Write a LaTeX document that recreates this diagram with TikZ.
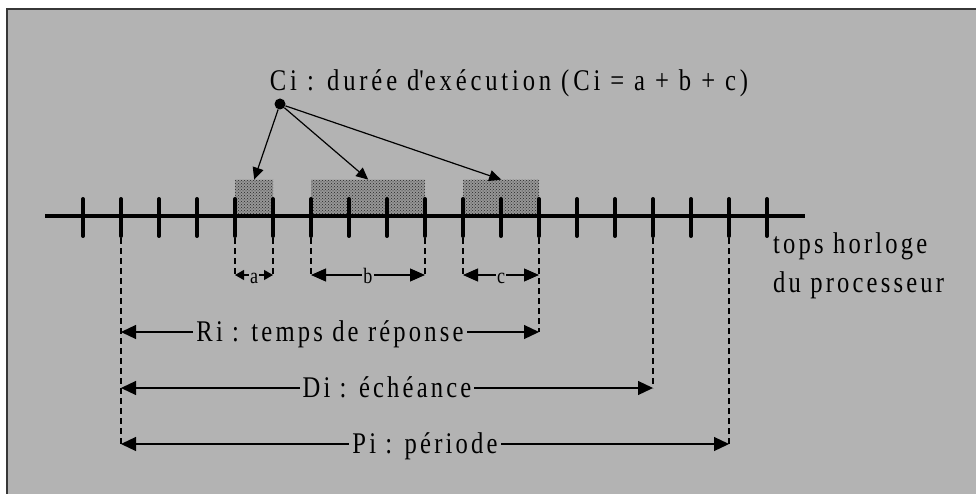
\documentclass[tikz,border=0pt]{standalone}
\usepackage{fontspec}
\setmainfont{Liberation Serif}[FakeStretch=0.82, LetterSpace=10.6]
\usetikzlibrary{arrows.meta,patterns}
\definecolor{panel}{RGB}{179,179,179}
\definecolor{frameline}{RGB}{55,55,55}
\definecolor{stipple}{RGB}{150,150,150}
\newcommand{\bigtxt}{\fontsize{30}{39}\selectfont}
\newcommand{\smalltxt}{\fontsize{22}{24}\selectfont}
\begin{document}
\begin{tikzpicture}[x=1pt,y=-1pt,
  tickmark/.style={line width=4pt, line cap=round},
  guide/.style={line width=2pt, dash pattern=on 6pt off 4pt},
  blockbox/.style={inner sep=0pt, anchor=south west, minimum height=36pt,
    preaction={fill=stipple}, pattern=crosshatch dots, pattern color=black!85},
  pointer/.style={line width=1.2pt, -{Triangle[length=12pt,width=11pt]}},
  span/.style={line width=1.2pt, {Triangle[length=15pt,width=14pt]}-{Triangle[length=15pt,width=14pt]}},
  spanlbl/.style={fill=panel, inner xsep=3pt, inner ysep=0pt, anchor=base, yshift=-9pt, font=\bigtxt},
  dimbig/.style={line width=1.2pt, {Triangle[length=15pt,width=13pt]}-{Triangle[length=15pt,width=13pt]}},
  dimsmall/.style={line width=1.2pt, {Triangle[length=9pt,width=10pt]}-{Triangle[length=9pt,width=10pt]}},
  dimlbl/.style={fill=panel, inner xsep=1pt, inner ysep=0pt, anchor=base, yshift=-8pt, font=\smalltxt}]

\useasboundingbox (0,0) rectangle (976,494);
\fill[white] (0,0) rectangle (976,494);
\fill[panel] (7,9) rectangle (976,494);
\draw[frameline, line width=1.5pt] (7,494) -- (7,9) -- (976,9);

% clock ticks
\foreach \i in {0,...,18}{
  \pgfmathsetmacro{\x}{83+38*\i}
  \coordinate (k\i) at (\x,216);
}

% rows of the dimension lines
\coordinate (rowabc) at (0,275);
\coordinate (rowR) at (0,332);
\coordinate (rowD) at (0,388);
\coordinate (rowP) at (0,444);

% execution slices
\node[blockbox, minimum width=38pt] (blka) at (k4) {};
\node[blockbox, minimum width=114pt] (blkb) at (k6) {};
\node[blockbox, minimum width=76pt] (blkc) at (k10) {};

% time axis
\draw[line width=4pt] (45,216) -- (805,216);
\foreach \i in {0,...,18}{
  \draw[tickmark] ([yshift=17pt]k\i) -- ([yshift=-20pt]k\i);
}

% caption with its pointers
\node[font=\bigtxt\addfontfeature{LetterSpace=12.8}, anchor=base, inner sep=0pt] (cap) at (509,91) {Ci : durée d\textquotesingle exécution (Ci = a + b + c)};
\node[circle, fill=black, inner sep=0pt, minimum size=11pt] (dot) at (280,104) {};
\draw[pointer] (dot) -- (blka.north);
\draw[pointer] (dot) -- (blkb.north);
\draw[pointer] (dot) -- (blkc.north);

% clock label
\node[font=\bigtxt, anchor=base west, align=left, inner sep=0pt] (clk) at (773,292) {tops horloge\\du processeur};

% guides
\foreach \i in {4,5,6,9,10}{
  \draw[guide] ([yshift=-22pt]k\i) -- (k\i |- rowabc);
}
\draw[guide] ([yshift=-22pt]k12) -- (k12 |- rowR);
\draw[guide] ([yshift=-22pt]k15) -- (k15 |- rowD);
\draw[guide] ([yshift=-22pt]k17) -- (k17 |- rowP);
\draw[guide] ([yshift=-22pt]k1) -- (k1 |- rowP);

% slice widths
\draw[dimsmall] (k4 |- rowabc) -- node[dimlbl] (la) {a} (k5 |- rowabc);
\draw[dimbig] (k6 |- rowabc) -- node[dimlbl] (lb) {b} (k9 |- rowabc);
\draw[dimbig] (k10 |- rowabc) -- node[dimlbl] (lc) {c} (k12 |- rowabc);

% response time, deadline, period
\draw[span] (k1 |- rowR) -- node[spanlbl] (lr) {Ri : temps de réponse} (k12 |- rowR);
\draw[span] (k1 |- rowD) -- node[spanlbl] (ld) {Di : échéance} (k15 |- rowD);
\draw[span] (k1 |- rowP) -- node[spanlbl] (lp) {Pi : période} (k17 |- rowP);
\end{tikzpicture}
\end{document}
